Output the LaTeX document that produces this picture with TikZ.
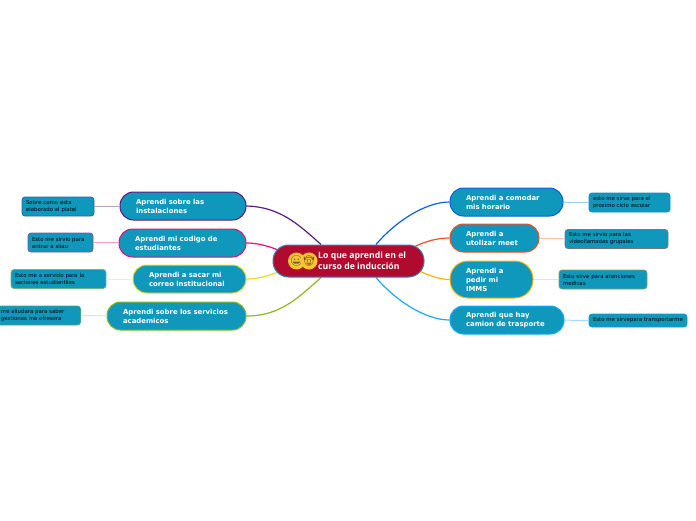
\documentclass[tikz,border=0pt]{standalone}
\usepackage{fontspec}
\usepackage{xcolor}
\setmainfont{DejaVu Sans}
\newfontfamily\rootfont{Open Sans}
\newfontfamily\emojifont{Noto Emoji}
\definecolor{boxblue}{HTML}{1097BC}
\definecolor{rootred}{HTML}{B00B2E}
\definecolor{rootedge}{HTML}{2F86B8}
\definecolor{cpurple}{HTML}{5C1A7E}
\definecolor{cpink}{HTML}{EC0C78}
\definecolor{cyellow}{HTML}{E8DC22}
\definecolor{cgreen}{HTML}{8DB81E}
\definecolor{cblue}{HTML}{0A62D6}
\definecolor{corange}{HTML}{F4511E}
\definecolor{camber}{HTML}{FFB300}
\definecolor{csky}{HTML}{18ABF2}
\definecolor{facey}{HTML}{F7C531}
\definecolor{hatbrown}{HTML}{7A4A20}
\usetikzlibrary{positioning, backgrounds}
\tikzset{
    rootbox/.style={draw=rootedge, line width=1pt, fill=rootred, rounded corners=15.5pt,
        minimum width=151pt, minimum height=32pt},
    roottext/.style={text=white, inner sep=0pt, align=left, font=\rootfont\bfseries\fontsize{8.7}{11}\selectfont},
    branchbox/.style={fill=boxblue, line width=1pt, rounded corners=13.5pt, minimum height=28pt,
        inner xsep=16pt, inner ysep=0pt, align=left, text=white,
        font=\bfseries\fontsize{6.9}{9}\selectfont},
    notebox/.style={fill=boxblue, line width=0.8pt, rounded corners=3pt, minimum height=19pt,
        inner xsep=4pt, inner ysep=0pt, align=left, text=black,
        font=\fontsize{5.4}{7}\selectfont},
    mainlink/.style={line width=1.2pt},
    notelink/.style={line width=1pt},
    face/.style={circle, fill=facey, minimum size=11.5pt, inner sep=0pt,
        font=\emojifont\fontsize{10.5}{10.5}\selectfont, text=black!70}
}
\begin{document}
\begin{tikzpicture}[x=1pt, y=-1pt]
    \useasboundingbox (0,0) rectangle (696,520);
    % centre
    \node[rootbox] (root) at (348.5,261) {};
    \node[roottext, anchor=west] (roottitle) at (318,261) {Lo que aprendi en el\\curso de inducción};
    \node[face] (faceone) at (296.5,261) {😀};
    \node[face, text=hatbrown] (facetwo) at (309,261) {🤠};
    % left branches
    \node[branchbox, draw=cpurple, text width=94pt] (instal) at (183,206) {Aprendi sobre las\\instalaciones};
    \node[branchbox, draw=cpink, text width=95pt] (codigo) at (182.5,243) {Aprendi mi codigo de\\estudiantes};
    \node[branchbox, draw=cyellow, text width=81pt] (correo) at (189.5,279) {Aprendi a sacar mi\\correo institucional};
    \node[branchbox, draw=cgreen, text width=107pt] (servicios) at (176.5,316) {Aprendi sobre los servicios\\academicos};
    % right branches
    \node[branchbox, draw=cblue, text width=81pt] (horario) at (506.5,202) {Aprendi a comodar\\mis horario};
    \node[branchbox, draw=corange, text width=57pt] (meet) at (494.5,238) {Aprendi a\\utolizar meet};
    \node[branchbox, draw=camber, text width=51pt, minimum height=37pt, rounded corners=18pt] (imms) at (491.5,279.5) {Aprendi a\\pedir mi\\IMMS};
    \node[branchbox, draw=csky, text width=82pt] (camion) at (507,320) {Aprendi que hay\\camion de trasporte};
    % notes
    \node[notebox, draw=cpurple!45!boxblue, text width=64pt] (noteinstal) at (58,206.5) {Sobre como esta\\elaborado el platel};
    \node[notebox, draw=cpink!45!boxblue, text width=57pt] (notecodigo) at (60.5,242.5) {Esto me sirvio para\\entrar a siiau};
    \node[notebox, draw=cyellow!45!boxblue, text width=87pt] (notecorreo) at (58.5,279) {Esto me a servido para la\\seciones estudiantiles};
    \node[notebox, draw=cgreen!45!boxblue, text width=73.5pt, inner xsep=6pt] (noteservicios) at (37.75,315.5) {me aliudara para saber\\gestiones me ofresera};
    \node[notebox, draw=cblue!25!boxblue, text width=73pt] (notehorario) at (629.5,202.5) {esto me sirve para el\\proximo ciclo escolar};
    \node[notebox, draw=corange!45!boxblue, text width=95pt] (notemeet) at (616.5,239) {Esto me sirvio para las\\videollamadas grupales};
    \node[notebox, draw=camber!45!boxblue, text width=80pt] (noteimms) at (603,279.5) {Esto sirve para atenciones\\medicas};
    \node[notebox, draw=csky!25!boxblue, text width=90pt, minimum height=13pt] (notecamion) at (638,320.5) {Esto me sirvepara transportarme};
    % points under the centre box
    \coordinate (rootpink) at (281,251);
    \coordinate (rootyellow) at (281,271);
    \coordinate (rootorange) at (412,248);
    \coordinate (rootamber) at (417,270);
    % links from the centre
    \begin{pgfonlayer}{background}
    \draw[mainlink, cpurple] (root.149) .. controls (298,224) and (280,207) .. (instal.east);
    \draw[mainlink, cpink] (rootpink) .. controls (268,246) and (258,243) .. (codigo.east);
    \draw[mainlink, cyellow] (rootyellow) .. controls (268,276) and (258,279) .. (correo.east);
    \draw[mainlink, cgreen] (root.211) .. controls (298,298) and (280,316) .. (servicios.east);
    \draw[mainlink, cblue] (root.31) .. controls (395,222) and (425,202) .. (horario.west);
    \draw[mainlink, corange] (rootorange) .. controls (425,241) and (438,238) .. (meet.west);
    \draw[mainlink, camber] (rootamber) .. controls (430,276) and (440,279.5) .. (imms.west);
    \draw[mainlink, csky] (root.329) .. controls (395,300) and (425,320) .. (camion.west);
    \end{pgfonlayer}
    % links to the notes
    \draw[notelink, cpurple!40] (instal) -- (noteinstal);
    \draw[notelink, cpink!40] (codigo) -- (notecodigo);
    \draw[notelink, cyellow!40] (correo) -- (notecorreo);
    \draw[notelink, cgreen!30] (servicios) -- (noteservicios);
    \draw[notelink, cblue!35] (horario) -- (notehorario);
    \draw[notelink, corange!35] (meet) -- (notemeet);
    \draw[notelink, camber!40] (imms) -- (noteimms);
    \draw[notelink, csky!40] (camion) -- (notecamion);
\end{tikzpicture}
\end{document}
